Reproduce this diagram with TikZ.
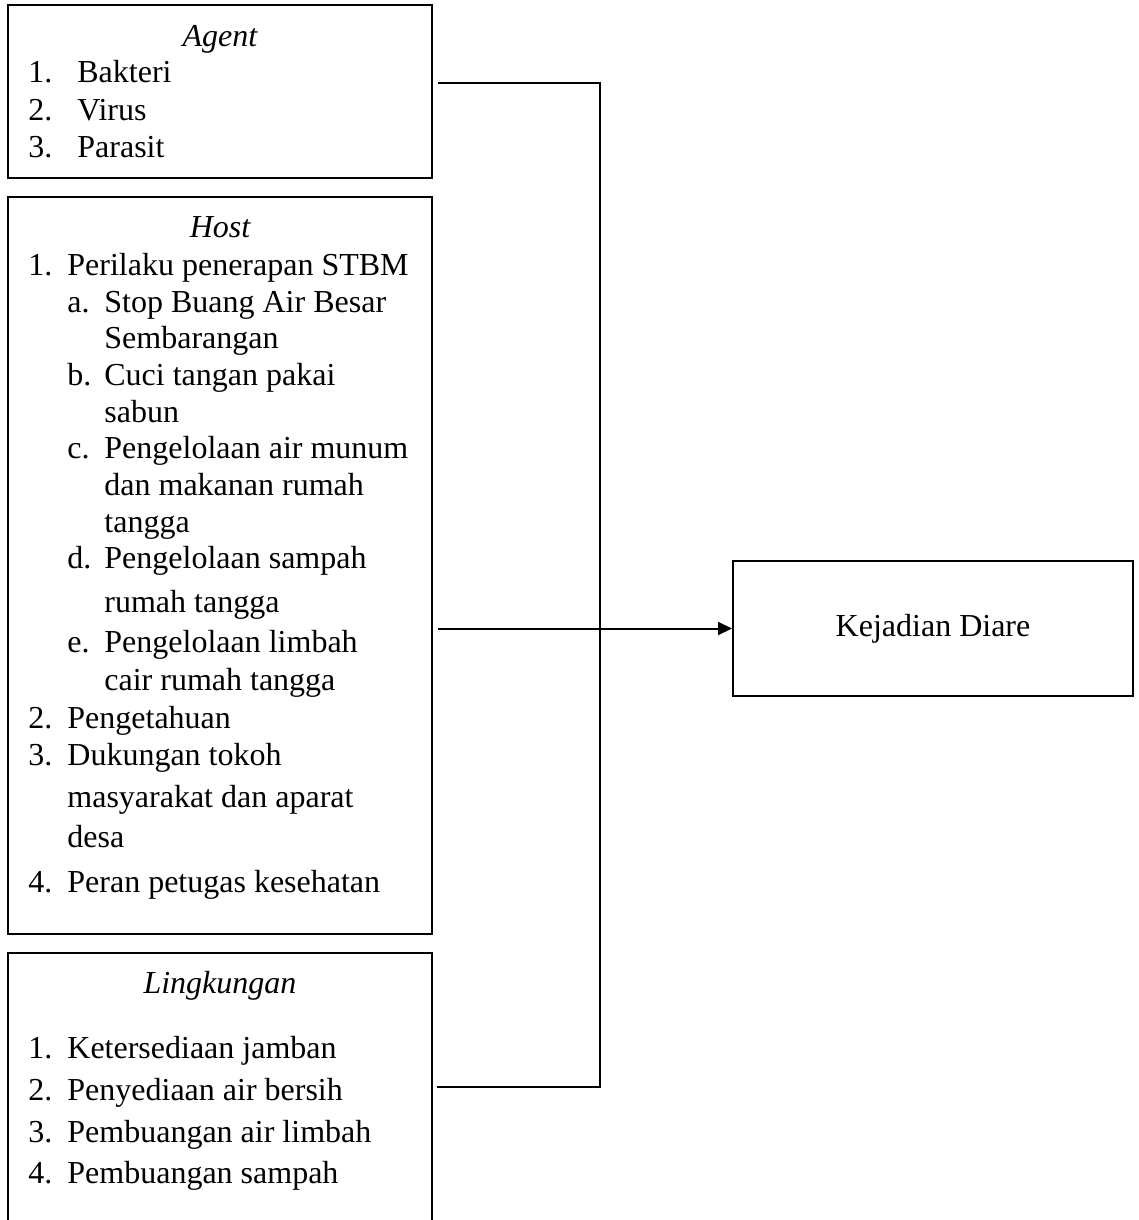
\documentclass[tikz,border=0pt]{standalone}
\usepackage{fontspec}
\setmainfont{Liberation Serif}
\usetikzlibrary{arrows.meta}
\tikzset{
  txt/.style={anchor=base west, inner sep=0pt, font=\fontsize{16pt}{18pt}\selectfont},
  ttl/.style={anchor=base, inner sep=0pt, font=\fontsize{16pt}{18pt}\selectfont\itshape},
  box/.style={draw, line width=1pt, rectangle, inner sep=0pt, minimum width=212pt},
  conn/.style={line width=1pt},
}
\begin{document}
\begin{tikzpicture}[x=0.5pt,y=-0.5pt]
\useasboundingbox (0,0) rectangle (1139,1220);
% boxes
\node[box, minimum height=86.5pt] (agent) at (220,91.5) {};
\node[box, minimum height=368.5pt] (host) at (220,565.5) {};
\node[rectangle, inner sep=0pt, minimum width=212pt, minimum height=133.5pt] (ling) at (220,1086.5) {};
\draw[line width=1pt] (ling.south west) -- (ling.north west) -- (ling.north east) -- (ling.south east);
\node[draw, line width=1pt, rectangle, inner sep=0pt, minimum width=200pt, minimum height=67.5pt,
      font=\fontsize{16pt}{18pt}\selectfont] (kej) at (933,628.5) {Kejadian Diare};

% Agent
\node[ttl] (ta) at (220,47) {Agent};
\node[txt] (a1n) at (28,83) {1.};
\node[txt] (a1) at (77,83) {Bakteri};
\node[txt] (a2n) at (28,120) {2.};
\node[txt] (a2) at (77,120) {Virus};
\node[txt] (a3n) at (28,157) {3.};
\node[txt] (a3) at (77,157) {Parasit};

% Host
\node[ttl] (th) at (220,237) {Host};
\node[txt] (h1n) at (28,275) {1.};
\node[txt] (h1) at (67,275) {Perilaku penerapan STBM};
\node[txt] (han) at (67,312) {a.};
\node[txt] (ha) at (104,312) {Stop Buang Air Besar};
\node[txt] (ha2) at (104,348) {Sembarangan};
\node[txt] (hbn) at (67,385) {b.};
\node[txt] (hb) at (104,385) {Cuci tangan pakai};
\node[txt] (hb2) at (104,422) {sabun};
\node[txt] (hcn) at (67,458) {c.};
\node[txt] (hc) at (104,458) {Pengelolaan air munum};
\node[txt] (hc2) at (104,495) {dan makanan rumah};
\node[txt] (hc3) at (104,532) {tangga};
\node[txt] (hdn) at (67,568) {d.};
\node[txt] (hd) at (104,568) {Pengelolaan sampah};
\node[txt] (hd2) at (104,612) {rumah tangga};
\node[txt] (hen) at (67,652) {e.};
\node[txt] (he) at (104,652) {Pengelolaan limbah};
\node[txt] (he2) at (104,690) {cair rumah tangga};
\node[txt] (h2n) at (28,728) {2.};
\node[txt] (h2) at (67,728) {Pengetahuan};
\node[txt] (h3n) at (28,765) {3.};
\node[txt] (h3) at (67,765) {Dukungan tokoh};
\node[txt] (h3b) at (67,807) {masyarakat dan aparat};
\node[txt] (h3c) at (67,847) {desa};
\node[txt] (h4n) at (28,892) {4.};
\node[txt] (h4) at (67,892) {Peran petugas kesehatan};

% Lingkungan
\node[ttl] (tl) at (220,993) {Lingkungan};
\node[txt] (l1n) at (28,1058) {1.};
\node[txt] (l1) at (67,1058) {Ketersediaan jamban};
\node[txt] (l2n) at (28,1100) {2.};
\node[txt] (l2) at (67,1100) {Penyediaan air bersih};
\node[txt] (l3n) at (28,1142) {3.};
\node[txt] (l3) at (67,1142) {Pembuangan air limbah};
\node[txt] (l4n) at (28,1183) {4.};
\node[txt] (l4) at (67,1183) {Pembuangan sampah};

% connectors
\coordinate (j1) at (600,83);
\coordinate (j2) at (600,1087);
\draw[conn] ([xshift=2.5pt]agent.east |- j1) -- (j1) -- (j2) -- ([xshift=2.5pt]ling.east |- j2);
\draw[conn, -{Triangle[length=7pt,width=6.5pt]}] ([xshift=2.5pt]host.east |- kej.west) -- (kej.west);
\end{tikzpicture}
\end{document}
